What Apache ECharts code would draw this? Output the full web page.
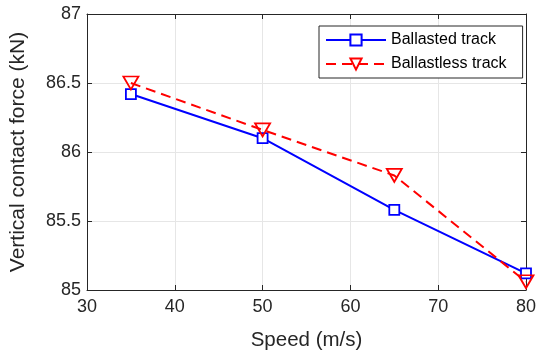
<!DOCTYPE html>
<html><head><meta charset="utf-8">
<script src="https://cdn.jsdelivr.net/npm/echarts@6/dist/echarts.min.js"></script>
<style>html,body{margin:0;padding:0;background:#fff}#c{width:544px;height:356px}</style>
</head><body><div id="c"></div>
<script>
const speeds = [35, 50, 65, 80];
const ballasted = [86.42, 86.10, 85.58, 85.12];
const ballastless = [86.50, 86.16, 85.83, 85.06];
const xTicks = [30, 40, 50, 60, 70, 80];
const yTicks = [85, 85.5, 86, 86.5, 87];
const seriesNames = ['Ballasted track', 'Ballastless track'];

const font = 'Liberation Sans, Arial, sans-serif';
const axisCol = '#262626';
const gridCol = '#e6e6e6';

const chart = echarts.init(document.getElementById('c'), null, {renderer: 'canvas'});
const baseX = {
  type: 'value', min: xTicks[0], max: xTicks[xTicks.length - 1], interval: 10,
  axisLine: {show: true, lineStyle: {color: axisCol, width: 1}},
  axisTick: {show: true, inside: true, length: 5, lineStyle: {color: axisCol}},
};
const baseY = {
  type: 'value', min: yTicks[0], max: yTicks[yTicks.length - 1], interval: 0.5,
  axisLine: {show: true, lineStyle: {color: axisCol, width: 1}},
  axisTick: {show: true, inside: true, length: 5, lineStyle: {color: axisCol}},
};
chart.setOption({
  animation: false,
  backgroundColor: '#fff',
  grid: {left: 86, right: 18, top: 14, bottom: 61, containLabel: false},
  legend: {
    orient: 'vertical', left: 319, top: 26,
    backgroundColor: '#fff', borderColor: axisCol, borderWidth: 1, borderRadius: 0,
    padding: [6, 16, 6, 6], itemGap: 8, itemWidth: 60, itemHeight: 14,
    textStyle: {fontFamily: font, fontSize: 16, color: '#000'},
    data: seriesNames
  },
  xAxis: [
    Object.assign({}, baseX, {
      position: 'bottom',
      axisLabel: {fontFamily: font, fontSize: 18, color: axisCol, margin: 8},
      splitLine: {show: true, lineStyle: {color: gridCol, width: 1}},
      name: 'Speed (m/s)', nameLocation: 'middle', nameGap: 40,
      nameTextStyle: {fontFamily: font, fontSize: 20.5, color: axisCol}
    }),
    Object.assign({}, baseX, {
      position: 'top', axisLabel: {show: false}, splitLine: {show: false}
    })
  ],
  yAxis: [
    Object.assign({}, baseY, {
      position: 'left',
      axisLabel: {fontFamily: font, fontSize: 18, color: axisCol, margin: 6,
        formatter: v => String(v)},
      splitLine: {show: true, lineStyle: {color: gridCol, width: 1}},
      name: 'Vertical contact force (kN)', nameLocation: 'middle', nameGap: 58,
      nameTextStyle: {fontFamily: font, fontSize: 21, color: axisCol}
    }),
    Object.assign({}, baseY, {
      position: 'right', axisLabel: {show: false}, splitLine: {show: false}
    })
  ],
  series: [
    {
      name: seriesNames[0], type: 'line', xAxisIndex: 0, yAxisIndex: 0,
      data: speeds.map((s, i) => [s, ballasted[i]]),
      symbol: 'rect', symbolSize: 10, showAllSymbol: true,
      lineStyle: {color: '#0000ff', width: 2},
      itemStyle: {color: '#fff', borderColor: '#0000ff', borderWidth: 1.8},
      z: 2
    },
    {
      name: seriesNames[1], type: 'line', xAxisIndex: 0, yAxisIndex: 0,
      data: speeds.map((s, i) => [s, ballastless[i]]),
      symbol: 'triangle', symbolRotate: 180, symbolSize: [15, 13], showAllSymbol: true,
      lineStyle: {color: '#ff0000', width: 2, type: [10, 6]},
      itemStyle: {color: 'rgba(255,255,255,0)', borderColor: '#ff0000', borderWidth: 1.8},
      z: 3
    }
  ]
});
</script></body></html>
